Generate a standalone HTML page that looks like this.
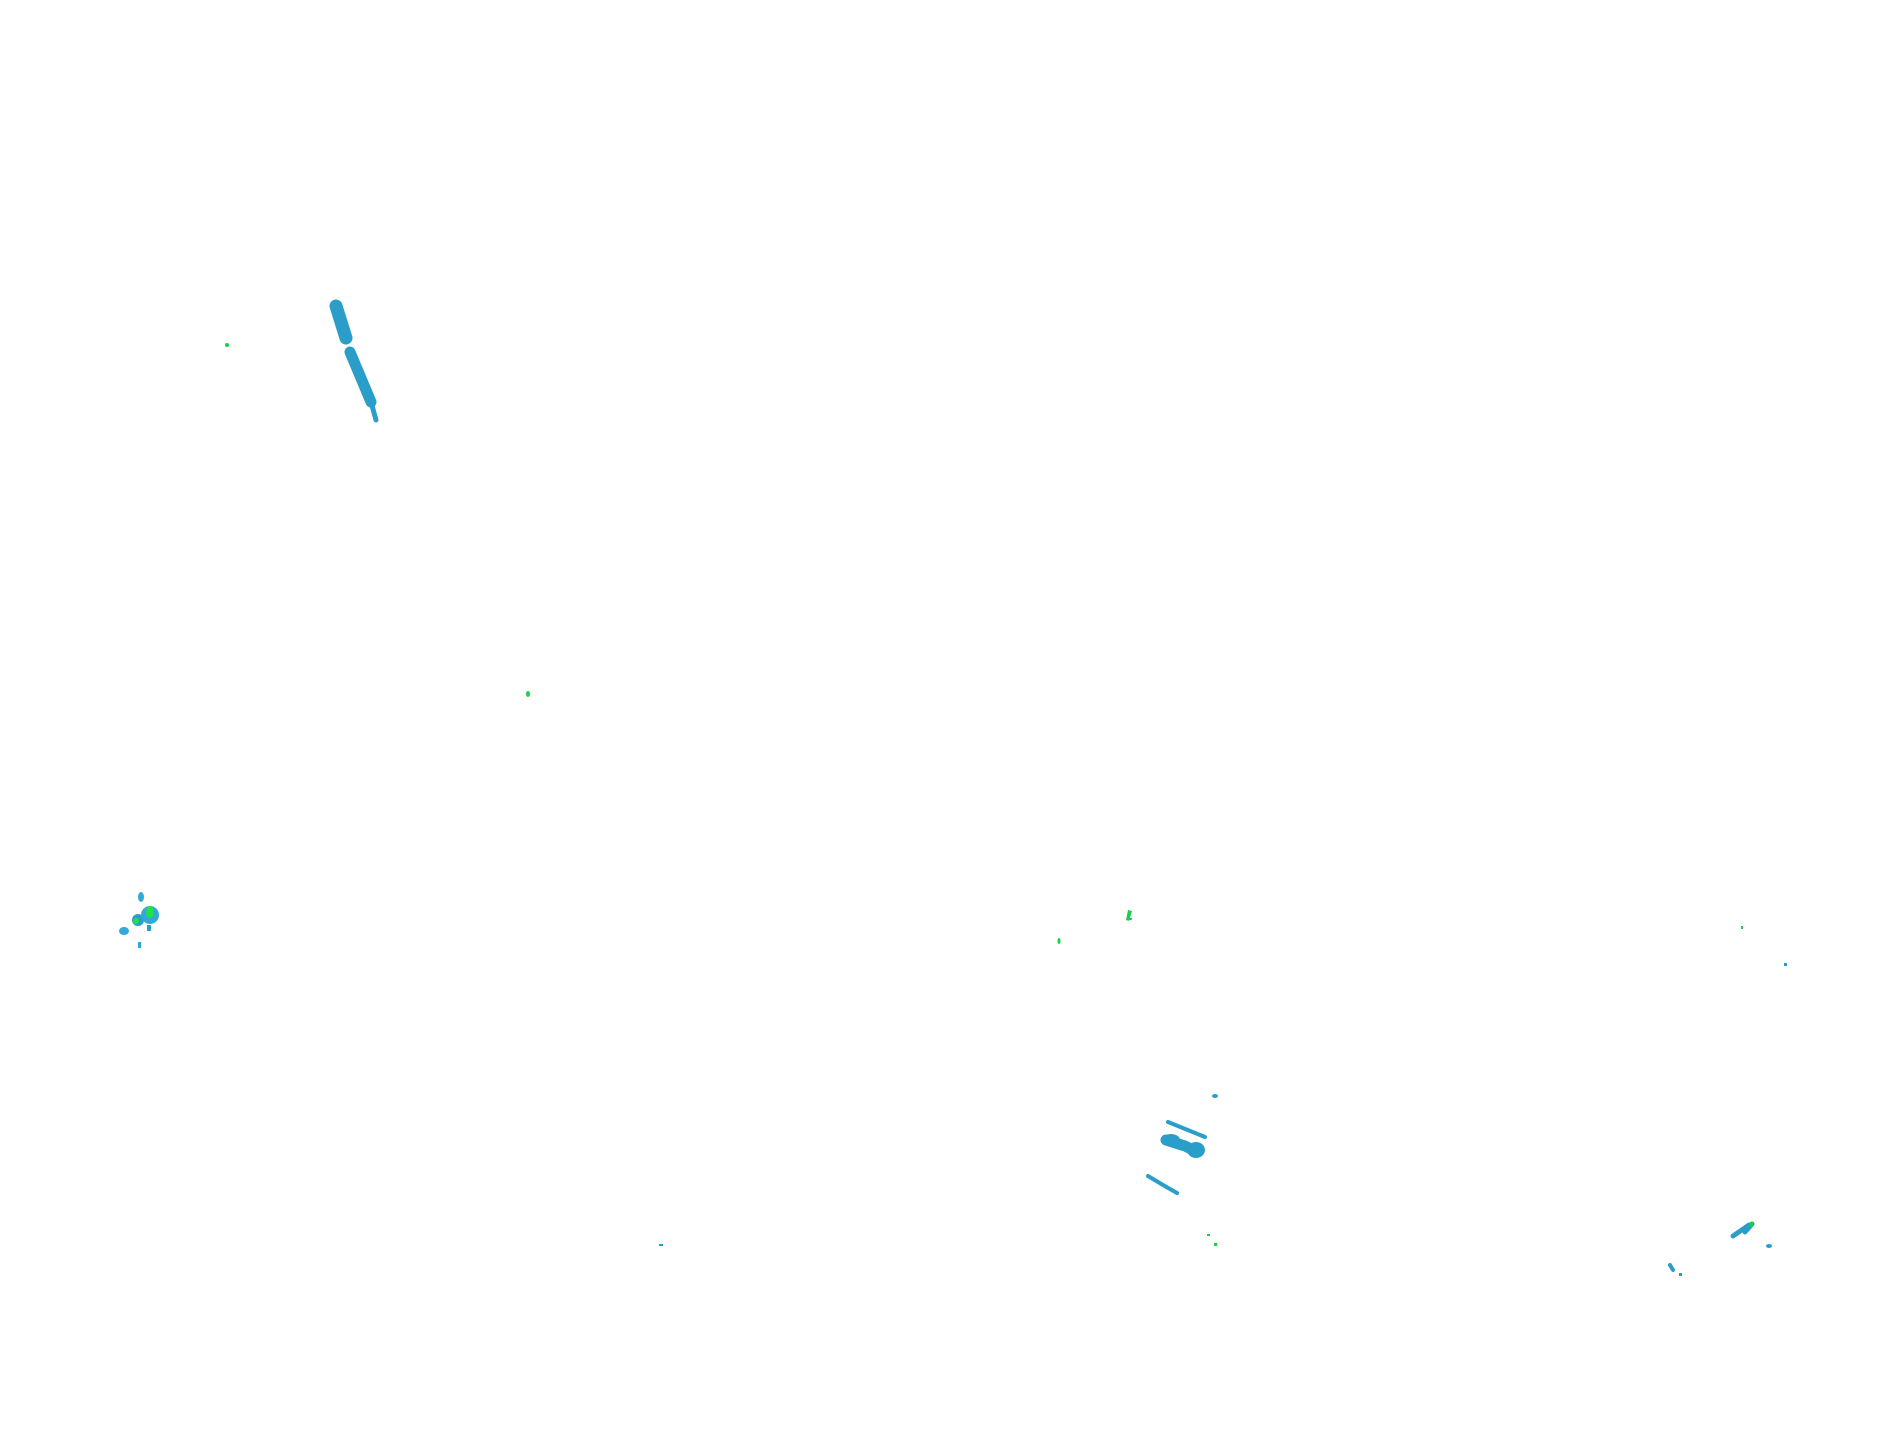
<!DOCTYPE html>
<html><head><style>html,body{margin:0;padding:0;background:#fff;width:1904px;height:1441px;overflow:hidden}</style></head>
<body>
<svg width="1904" height="1441" viewBox="0 0 1904 1441" xmlns="http://www.w3.org/2000/svg">
<g fill="none" stroke="#2a9dc8" stroke-linecap="round" stroke-linejoin="round">
  <path d="M336 306 L346 338" stroke-width="13"/>
  <path d="M350 352 L371 402" stroke-width="11"/>
  <path d="M371 402 L376 420" stroke-width="5"/>
  <path d="M1168 1122 L1205 1137" stroke-width="4"/>
  <path d="M1148 1176 L1163 1185 L1177 1193" stroke-width="4"/>
  <path d="M1166 1140 L1185 1146 L1197 1152" stroke-width="11"/>
  <path d="M1737 1228 L1749 1238" stroke-width="0"/>
  <path d="M1733 1236 L1749 1225" stroke-width="5"/>
  <path d="M1745 1232 L1752 1224" stroke-width="5"/>
  <path d="M1670 1265 L1673 1270" stroke-width="4"/>
  <path d="M1130 919 L1131 919" stroke-width="2"/>
</g>
<g fill="#2a9dc8">
  <ellipse cx="1215" cy="1096" rx="3" ry="2"/>
  <ellipse cx="1171" cy="1140" rx="9" ry="6"/>
  <ellipse cx="1196" cy="1150" rx="9" ry="8"/>
  <ellipse cx="124" cy="931" rx="5" ry="4" fill="#33a9d8"/>
  <ellipse cx="138" cy="920" rx="6" ry="6"/>
  <ellipse cx="150" cy="915" rx="9" ry="9" fill="#33a9d8"/>
  <ellipse cx="141" cy="897" rx="3" ry="5" fill="#33a9d8"/>
  <rect x="138" y="942" width="3" height="6" fill="#33a9d8"/>
  <rect x="147" y="925" width="4" height="6"/>
  <rect x="1784" y="963" width="3" height="3"/>
  <rect x="659" y="1244" width="4" height="2"/>
  <ellipse cx="1769" cy="1246" rx="3" ry="2"/>
  <rect x="1679" y="1273" width="3" height="3"/>
</g>
<g fill="#16d14a">
  <ellipse cx="227" cy="345" rx="2" ry="2"/>
  <ellipse cx="528" cy="694" rx="2" ry="3"/>
  <path d="M1128 910 L1132 911 L1129 921 L1126 920 Z"/>
  <ellipse cx="1059" cy="941" rx="1.5" ry="3"/>
  <rect x="1741" y="926" width="2" height="3"/>
  <rect x="1207" y="1234" width="3" height="2"/>
  <rect x="1214" y="1243" width="3" height="3"/>
  <ellipse cx="150" cy="912" rx="4" ry="6" fill="#22e04a"/>
  <ellipse cx="136" cy="921" rx="3" ry="3" fill="#22e04a"/>
  <rect x="1750" y="1222" width="3" height="5"/>
</g>
</svg>
</body></html>
